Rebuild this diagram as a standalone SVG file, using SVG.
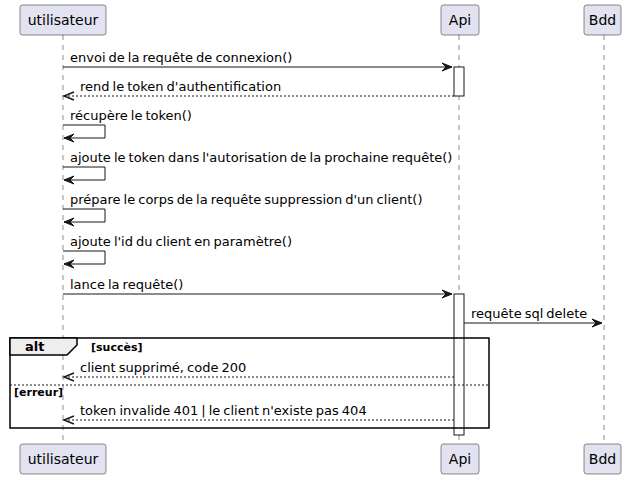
<svg xmlns="http://www.w3.org/2000/svg" width="630" height="479" viewBox="0 0 630 479">
<style>
.part{fill:#E2E2F0;stroke:#181818;stroke-width:0.5}
.ptxt{font-family:"DejaVu Sans",sans-serif;font-size:14px;fill:#000;text-anchor:middle}
.life{stroke:#181818;stroke-width:0.5;stroke-dasharray:5,5;fill:none}
.msg{stroke:#181818;stroke-width:1;fill:none}
.open{stroke:#181818;stroke-width:1.5;fill:none}
.ret{stroke:#181818;stroke-width:1;fill:none;stroke-dasharray:2,2}
.head{fill:#181818;stroke:#181818;stroke-width:1}
.mtxt{font-family:"DejaVu Sans",sans-serif;font-size:13px;fill:#000;word-spacing:-1.1px}
.act{fill:#FFFFFF;stroke:#181818;stroke-width:1}
.frame{fill:none;stroke:#000;stroke-width:1.5}
.tab{fill:#EEEEEE;stroke:#000;stroke-width:1.5}
.ftxt{font-family:"DejaVu Sans",sans-serif;font-size:13px;font-weight:bold;fill:#000}
.gtxt{font-family:"DejaVu Sans",sans-serif;font-size:11px;font-weight:bold;fill:#000}
</style>
<g id="lifelines">
<line class="life" x1="63" y1="35" x2="63" y2="444"/>
<line class="life" x1="459" y1="35" x2="459" y2="444"/>
<line class="life" x1="604" y1="35" x2="604" y2="444"/>
</g>
<g id="utilisateur">
<rect class="part" x="20" y="5" width="86" height="30" rx="2.5"/>
<text class="ptxt" x="63" y="25">utilisateur</text>
<rect class="part" x="20" y="444" width="86" height="30" rx="2.5"/>
<text class="ptxt" x="63" y="464">utilisateur</text>
</g>
<g id="Api">
<rect class="part" x="441" y="5" width="38" height="30" rx="2.5"/>
<text class="ptxt" x="460" y="25">Api</text>
<rect class="part" x="441" y="444" width="38" height="30" rx="2.5"/>
<text class="ptxt" x="460" y="464">Api</text>
</g>
<g id="Bdd">
<rect class="part" x="584" y="5" width="37" height="30" rx="2.5"/>
<text class="ptxt" x="602.5" y="25">Bdd</text>
<rect class="part" x="584" y="444" width="37" height="30" rx="2.5"/>
<text class="ptxt" x="602.5" y="464">Bdd</text>
</g>
<g id="activations">
<rect class="act" x="454" y="67" width="10" height="29"/>
<rect class="act" x="454" y="294" width="10" height="141"/>
</g>
<g id="alt">
<rect class="frame" x="10" y="338" width="479" height="90"/>
<polygon class="tab" points="10,338 77,338 77,345 67,355 10,355"/>
<text class="ftxt" x="25" y="351">alt</text>
<text class="gtxt" x="91" y="351">[succès]</text>
<line class="ret" x1="10" y1="385" x2="489" y2="385"/>
<text class="gtxt" x="14" y="396">[erreur]</text>
</g>
<g id="connectors">
<line class="msg" x1="63" y1="67" x2="452" y2="67"/>
<polygon class="head" points="442,63 452,67 442,71 446,67"/>
<text class="mtxt" x="70" y="62">envoi de la requête de connexion()</text>

<line class="ret" x1="454" y1="96" x2="64" y2="96"/>
<path class="open" d="M74,92 L64,96 L74,100"/>
<text class="mtxt" x="80" y="91">rend le token d'authentification</text>

<path class="msg" d="M63,125 H105 V138 H64"/>
<polygon class="head" points="74,134 64,138 74,142 70,138"/>
<text class="mtxt" x="70" y="120">récupère le token()</text>

<path class="msg" d="M63,167 H105 V180 H64"/>
<polygon class="head" points="74,176 64,180 74,184 70,180"/>
<text class="mtxt" x="70" y="162">ajoute le token dans l'autorisation de la prochaine requête()</text>

<path class="msg" d="M63,209 H105 V222 H64"/>
<polygon class="head" points="74,218 64,222 74,226 70,222"/>
<text class="mtxt" x="70" y="204">prépare le corps de la requête suppression d'un client()</text>

<path class="msg" d="M63,251 H105 V264 H64"/>
<polygon class="head" points="74,260 64,264 74,268 70,264"/>
<text class="mtxt" x="70" y="246">ajoute l'id du client en paramètre()</text>

<line class="msg" x1="63" y1="294" x2="452" y2="294"/>
<polygon class="head" points="442,290 452,294 442,298 446,294"/>
<text class="mtxt" x="70" y="289">lance la requête()</text>

<line class="msg" x1="464" y1="323" x2="602" y2="323"/>
<polygon class="head" points="592,319 602,323 592,327 596,323"/>
<text class="mtxt" x="471" y="318">requête sql delete</text>

<line class="ret" x1="454" y1="377" x2="64" y2="377"/>
<path class="open" d="M74,373 L64,377 L74,381"/>
<text class="mtxt" x="80" y="372">client supprimé, code 200</text>

<line class="ret" x1="454" y1="420" x2="64" y2="420"/>
<path class="open" d="M74,416 L64,420 L74,424"/>
<text class="mtxt" x="80" y="415">token invalide 401 | le client n'existe pas 404</text>
</g>
</svg>
